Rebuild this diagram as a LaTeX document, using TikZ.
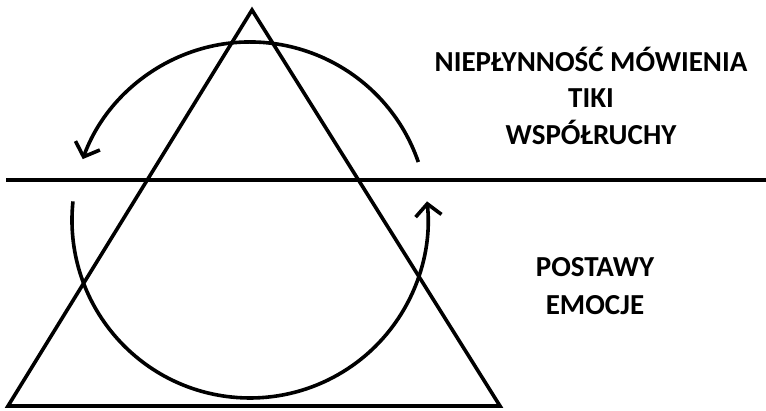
\documentclass[tikz,border=0pt]{standalone}
\usepackage{fontspec}
\setmainfont{Carlito}
\usetikzlibrary{arrows.meta,calc}
\tikzset{
  ink/.style={line width=3.6pt, draw=black},
  arrowink/.style={ink, -{Straight Barb[length=12pt,width=26pt,line width=3.6pt]}},
  label/.style={font=\fontsize{29}{35}\selectfont\bfseries, anchor=base, inner sep=0pt}
}
\begin{document}
\begin{tikzpicture}[x=1pt,y=-1pt]
\useasboundingbox (0,0) rectangle (766,411);
\fill[white] (0,0) rectangle (766,411);
% triangle
\coordinate (apex) at (252,10);
\coordinate (bl) at (8,406);
\coordinate (br) at (500,406);
\draw[ink, line join=miter] (apex) -- (br) -- (bl) -- cycle;
% horizontal line
\coordinate (hl) at (6,180);
\coordinate (hr) at (766,180);
\draw[ink] (hl) -- (hr);
% cycle arcs
\coordinate (c) at (250,220);
\draw[arrowink] ($(c)+(19:178pt)$) arc[start angle=19, end angle=160, radius=178pt];
\draw[arrowink] ($(c)+(174:178pt)$) arc[start angle=174, end angle=366, radius=178pt];
% texts
\node[label] (t1) at (591,72) {NIEPŁYNNOŚĆ MÓWIENIA};
\node[label] (t2) at (591,108) {TIKI};
\node[label] (t3) at (591,145) {WSPÓŁRUCHY};
\node[label] (t4) at (595,277) {POSTAWY};
\node[label] (t5) at (595,315) {EMOCJE};
\end{tikzpicture}
\end{document}
